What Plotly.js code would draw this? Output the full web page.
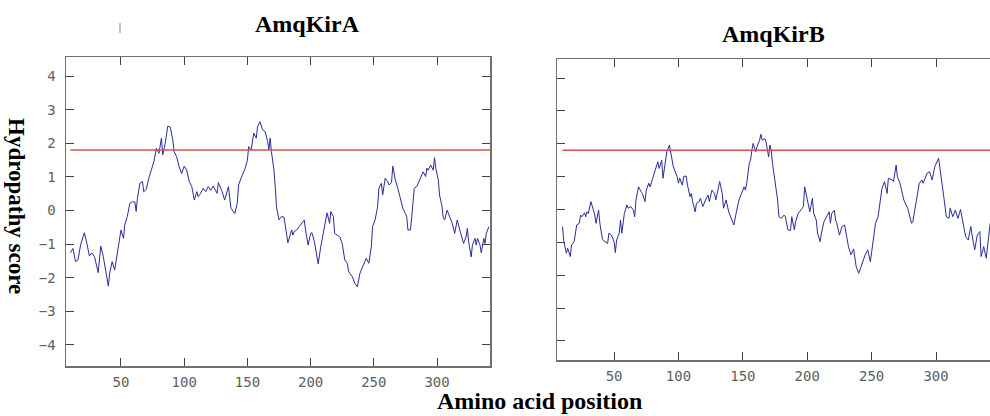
<!DOCTYPE html>
<html>
<head>
<meta charset="utf-8">
<script src="https://cdn.plot.ly/plotly-3.0.1.min.js"></script>
<style>
  html, body { margin: 0; padding: 0; background: #fff; }
  #chart { width: 990px; height: 416px; }
</style>
</head>
<body>
<div id="chart"></div>
<script>
// ---- Data ----
const panelTitles = ["AmqKirA", "AmqKirB"];
const xTickVals = [50, 100, 150, 200, 250, 300];
const yTickVals = [-4, -3, -2, -1, 0, 1, 2, 3, 4];
const threshold = 1.8;
const thresholdX = [10, 342];

const kirA_x = [10,12,14,16,18,21,23,25,27,29,32,34,36,38,40,41,43,45,47,50,52,53,55,57,59,61,62,63,65,67,68,70,72,74,76,78,80,82,83,85,87,89,91,92,94,96,98,100,102,104,106,108,110,111,113,115,117,119,121,123,126,127,130,132,134,135,137,140,142,143,146,148,150,151,153,155,157,158,160,162,164,166,167,168,169,171,172,173,175,177,179,180,182,185,186,187,189,191,193,195,196,198,200,201,203,205,206,208,210,212,213,215,216,218,219,221,223,225,226,227,229,230,231,233,235,237,239,242,244,246,248,249,251,253,254,256,257,259,261,262,264,265,267,269,271,273,275,276,277,279,280,282,284,285,287,289,291,292,293,295,297,298,299,301,302,304,305,306,308,310,312,314,316,318,320,321,323,324,325,327,328,330,331,332,334,335,337,338,339,341];
const kirA_y = [-1.26,-1.13,-1.52,-1.47,-1.03,-0.66,-0.98,-1.35,-1.26,-1.37,-1.85,-1.06,-1.37,-1.87,-2.25,-1.87,-1.52,-1.77,-1.23,-0.58,-0.83,-0.43,-0.18,0.21,0.26,0.25,-0.03,0.36,0.81,0.86,0.56,0.63,0.96,1.2,1.45,1.85,1.70,2.15,1.65,2.0,2.51,2.48,2.1,1.75,1.6,1.3,1.1,1.32,1.2,0.86,0.71,0.31,0.56,0.41,0.51,0.66,0.56,0.71,0.6,0.73,0.51,0.83,0.56,0.31,0.61,0.71,0.06,-0.09,0.21,0.76,1.06,1.23,1.5,1.9,1.8,2.3,2.15,2.49,2.64,2.4,2.35,2.05,1.8,2.15,1.75,1.2,0.71,0.11,-0.28,-0.18,-0.2,-0.48,-0.96,-0.58,-0.73,-0.63,-0.58,-0.48,-0.38,-0.28,-0.58,-1.03,-0.68,-0.66,-0.93,-1.38,-1.59,-1.08,-0.68,-0.38,-0.07,-0.38,-0.03,-0.18,-0.68,-0.73,-0.78,-0.98,-1.27,-1.47,-1.57,-1.8,-1.87,-1.97,-2.17,-2.27,-1.87,-1.62,-1.42,-1.57,-1.08,-0.48,-0.28,0.11,0.66,0.81,0.46,0.96,0.86,0.76,0.83,1.32,0.91,0.66,0.31,0.06,-0.09,-0.18,-0.58,-0.58,-0.18,0.66,0.71,0.81,1.01,1.15,1.01,1.26,1.2,1.35,1.2,1.57,1.26,0.91,0.46,0.11,-0.23,-0.28,0.01,-0.18,-0.38,-0.68,-0.28,-0.58,-0.88,-0.98,-0.78,-0.53,-0.93,-1.38,-1.03,-0.83,-1.03,-0.83,-1.03,-1.26,-0.83,-0.98,-0.68,-0.48];

const kirB_x = [10,11,13,14,16,17,19,21,23,24,25,27,28,29,30,32,34,35,36,38,39,41,43,45,46,48,50,51,52,54,55,56,58,60,61,63,65,66,67,69,71,72,74,75,77,78,80,82,83,84,85,87,88,90,91,93,94,96,97,99,100,101,103,104,106,107,109,110,111,113,114,116,117,119,121,123,124,126,128,129,132,134,135,137,139,141,143,145,147,149,151,152,153,155,156,157,158,160,161,163,164,165,167,168,169,170,171,172,173,175,177,178,180,182,183,185,187,188,190,191,193,195,197,198,200,202,204,205,207,208,210,211,213,215,217,218,219,221,222,223,225,227,229,232,234,236,238,240,242,245,247,249,253,255,258,260,262,263,266,267,269,270,272,275,278,281,282,285,287,289,290,293,295,297,299,302,304,306,308,310,311,313,315,317,319,321,323,325,327,328,330,332,334,335,337,339,341,342];
const kirB_y = [-0.52,-0.98,-1.33,-1.18,-1.43,-1.08,-0.98,-0.47,-0.42,-0.17,-0.22,-0.10,-0.22,-0.07,-0.12,0.24,-0.02,-0.17,-0.42,-0.02,-0.42,-0.91,-0.98,-1.03,-0.72,-0.78,-0.98,-1.31,-0.93,-0.72,-0.32,-0.72,-0.12,0.14,0.04,0.09,-0.02,-0.22,0.29,0.69,0.54,0.49,0.24,0.59,0.80,0.69,0.95,1.2,1.4,1.45,1.25,1.5,0.95,1.5,1.76,1.96,1.73,1.3,1.2,1.0,0.8,0.95,0.74,1.0,1.02,0.74,0.39,0.49,0.24,-0.07,0.19,0.24,0.34,0.09,0.29,0.44,0.24,0.59,0.49,0.29,0.85,0.49,0.04,0.29,-0.07,-0.27,-0.47,-0.07,0.29,0.49,0.69,0.59,0.8,1.4,1.5,1.81,2.01,1.76,1.91,2.11,2.29,2.11,2.16,2.06,1.86,1.6,1.96,1.81,1.4,0.9,0.29,-0.22,-0.27,-0.17,-0.22,-0.62,-0.64,-0.22,-0.62,-0.37,-0.12,-0.02,0.09,0.69,0.29,-0.07,0.34,-0.12,-0.32,-0.72,-0.98,-0.72,-0.37,-0.22,-0.07,-0.42,-0.12,-0.02,-0.32,-0.42,-0.78,-0.52,-0.47,-1.13,-1.38,-1.2,-1.74,-1.94,-1.69,-1.38,-1.23,-1.59,-0.42,-0.22,0.64,0.85,0.49,0.95,0.9,0.85,1.35,1.0,0.8,0.29,0.04,-0.42,-0.37,0.39,0.8,0.9,0.8,1.1,1.15,0.9,1.3,1.56,0.9,0.39,-0.22,-0.27,0.04,-0.22,-0.02,-0.27,0.0,-0.42,-0.83,-0.93,-0.52,-0.78,-1.23,-0.78,-0.67,-1.43,-1.13,-1.48,-0.62,-0.42];

const xLabel = "Amino acid position";
const yLabel = "Hydropathy score";

// ---- Styles ----
const profileColor = "#2b2b96";
const thresholdColor = "#d4504e";
const axisColor = "#707070";
const tickFont = { family: "DejaVu Sans Mono", size: 14, color: "#606060" };
const titleFont = { family: "Liberation Serif", size: 24, color: "#000" };

const traces = [
  { x: kirA_x, y: kirA_y, xaxis: "x", yaxis: "y", mode: "lines",
    line: { color: profileColor, width: 1 } },
  { x: thresholdX, y: thresholdX.map(() => threshold), xaxis: "x", yaxis: "y", mode: "lines",
    line: { color: thresholdColor, width: 1.5 } },
  { x: kirB_x, y: kirB_y, xaxis: "x2", yaxis: "y2", mode: "lines",
    line: { color: profileColor, width: 1 } },
  { x: thresholdX, y: thresholdX.map(() => threshold), xaxis: "x2", yaxis: "y2", mode: "lines",
    line: { color: thresholdColor, width: 1.5 } }
];

const baseX = {
  tickmode: "array", tickvals: xTickVals, ticktext: xTickVals.map(String),
  ticks: "inside", ticklen: 8, tickwidth: 1, tickcolor: "#404040",
  showline: true, linecolor: axisColor, linewidth: 1.5, mirror: "ticks",
  showgrid: false, zeroline: false, tickfont: tickFont, ticklabelstandoff: 3
};
const baseY = {
  tickmode: "array", tickvals: yTickVals,
  ticks: "inside", ticklen: 8, tickwidth: 1, tickcolor: "#404040",
  showline: true, linecolor: axisColor, linewidth: 1.5,
  showgrid: false, zeroline: false, tickfont: tickFont, ticklabelstandoff: 6
};

const layout = {
  width: 990, height: 416,
  margin: { l: 0, r: 0, t: 0, b: 0 },
  paper_bgcolor: "#fff", plot_bgcolor: "#fff",
  showlegend: false,
  xaxis: Object.assign({}, baseX, { domain: [66/990, 490/990], range: [6.5, 341.9], anchor: "y" }),
  yaxis: Object.assign({}, baseY, { domain: [50/416, 359/416], range: [-4.625, 4.565], anchor: "x",
    mirror: "ticks", ticktext: yTickVals.map(v => v < 0 ? "\u2212" + Math.abs(v) : String(v)) }),
  xaxis2: Object.assign({}, baseX, { domain: [557/990, 1], range: [5.7, 341.9], anchor: "y2" }),
  yaxis2: Object.assign({}, baseY, { domain: [56/416, 357/416], range: [-4.58, 4.58], anchor: "x2",
    mirror: false, showticklabels: false }),
  annotations: [
    { text: "<b>" + panelTitles[0] + "</b>", xref: "paper", yref: "paper",
      x: 307/990, y: 1 - 24/416, xanchor: "center", yanchor: "middle", showarrow: false, font: titleFont },
    { text: "<b>" + panelTitles[1] + "</b>", xref: "paper", yref: "paper",
      x: 773/990, y: 1 - 34/416, xanchor: "center", yanchor: "middle", showarrow: false, font: titleFont },
    { text: "<b>" + xLabel + "</b>", xref: "paper", yref: "paper",
      x: 539/990, y: 1 - 401/416, xanchor: "center", yanchor: "middle", showarrow: false,
      font: { family: "Liberation Serif", size: 24, color: "#000" } },
    { text: "<b>" + yLabel + "</b>", xref: "paper", yref: "paper",
      x: 17/990, y: 1 - 206/416, xanchor: "center", yanchor: "middle", showarrow: false, textangle: 90,
      font: { family: "Liberation Serif", size: 23, color: "#000" } }
  ],
  shapes: [
    { type: "line", xref: "paper", yref: "paper", x0: 120/990, x1: 120/990, y0: 1 - 23/416, y1: 1 - 33/416,
      line: { color: "#888", width: 1 } }
  ]
};

Plotly.newPlot("chart", traces, layout, { staticPlot: true, displayModeBar: false });
</script>
</body>
</html>
